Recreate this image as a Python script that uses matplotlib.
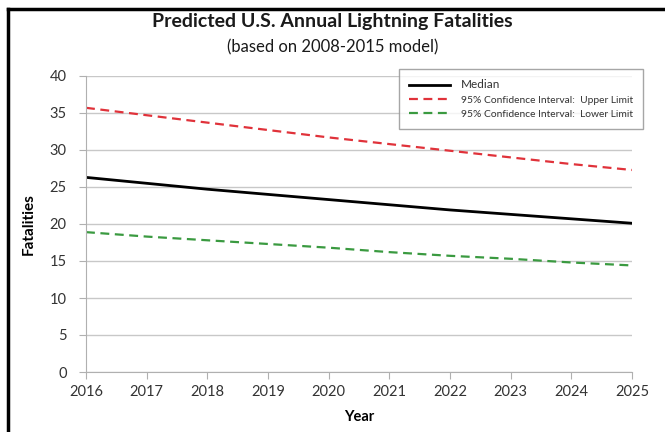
import matplotlib.pyplot as plt
from matplotlib.lines import Line2D

years = [2016, 2017, 2018, 2019, 2020, 2021, 2022, 2023, 2024, 2025]
median = [26.3, 25.5, 24.7, 24.0, 23.3, 22.6, 21.9, 21.3, 20.7, 20.1]
upper = [35.7, 34.7, 33.7, 32.7, 31.7, 30.8, 29.9, 29.0, 28.1, 27.3]
lower = [18.9, 18.3, 17.8, 17.3, 16.8, 16.2, 15.7, 15.3, 14.8, 14.4]

plt.rcParams['font.family'] = ['Lato', 'DejaVu Sans']

W, H = 665, 432
fig = plt.figure(figsize=(W / 100, H / 100), dpi=100)

# frame (left and top edges visible)
fig.add_artist(Line2D([8 / W, 8 / W], [0, 1 - 9 / H], color='black', lw=2.5))
fig.add_artist(Line2D([8 / W, 1.01], [1 - 9 / H, 1 - 9 / H], color='black', lw=2.5))

ax = fig.add_axes([86 / W, (H - 372) / H, (632 - 86) / W, (372 - 76) / H])

red = '#e0323a'
green = '#3a9a40'
ax.plot(years, median, color='black', lw=2, label='Median')
ax.plot(years, upper, color=red, lw=1.6, dashes=(4, 2.5),
        label='95% Confidence Interval:  Upper Limit')
ax.plot(years, lower, color=green, lw=1.6, dashes=(4, 2.5),
        label='95% Confidence Interval:  Lower Limit')

ax.set_xlim(2016, 2025)
ax.set_ylim(0, 40)
ax.set_xticks(years)
ax.set_yticks(range(0, 41, 5))
ax.grid(axis='y', color='#c8c8c8', lw=1)
ax.set_axisbelow(True)
for s in ['top', 'right']:
    ax.spines[s].set_visible(False)
for s in ['left', 'bottom']:
    ax.spines[s].set_color('#b0b0b0')
ax.tick_params(colors='#b0b0b0', labelcolor='#333333', labelsize=10.5, length=5)
ax.tick_params(axis='y', pad=9)
ax.tick_params(axis='x', pad=4)

ax.set_xlabel('Year', fontsize=10.5, fontweight='bold', labelpad=8)
ax.set_ylabel('Fatalities', fontsize=11, fontweight='bold', labelpad=10)

fig.text(0.5, 1 - 22 / H, 'Predicted U.S. Annual Lightning Fatalities',
         ha='center', va='center', fontsize=14, fontweight='bold', color='#1a1a1a')
fig.text(0.5, 1 - 47 / H, '(based on 2008-2015 model)',
         ha='center', va='center', fontsize=12, color='#1a1a1a')

leg = ax.legend(loc='upper right', bbox_to_anchor=(643 / W, 1 - 69 / H),
                bbox_transform=fig.transFigure, frameon=True, fancybox=False,
                edgecolor='#909090', fontsize=7.4, handlelength=4.0,
                handletextpad=1.0, borderpad=1.0, labelspacing=0.5,
                borderaxespad=0)
leg.get_frame().set_linewidth(1)
texts = leg.get_texts()
texts[0].set_fontsize(8.5)
for t in texts:
    t.set_color('#333333')

fig.savefig('out.png', dpi=100)
